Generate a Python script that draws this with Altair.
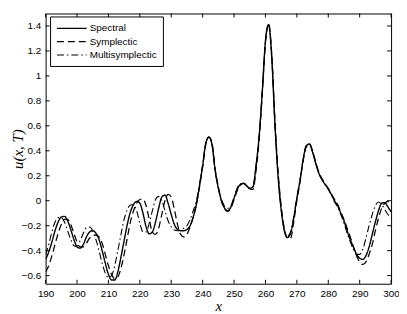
import altair as alt
import pandas as pd

x_values = list(range(190, 301))

spectral = [
    -0.47, -0.41, -0.33, -0.24, -0.17, -0.13, -0.125, -0.16, -0.23, -0.31,
    -0.37, -0.38, -0.35, -0.29, -0.25, -0.24, -0.26, -0.31, -0.40, -0.50,
    -0.59, -0.635, -0.635, -0.57, -0.45, -0.32, -0.19, -0.09, -0.03, -0.005,
    -0.02, -0.10, -0.21, -0.265, -0.25, -0.17, -0.06, 0.03, 0.045, -0.02,
    -0.11, -0.19, -0.23, -0.24, -0.24, -0.23, -0.20, -0.13, -0.03, 0.12,
    0.28, 0.46, 0.51, 0.45, 0.24, 0.10, 0.0, -0.06, -0.08, -0.05,
    0.02, 0.09, 0.13, 0.14, 0.12, 0.10, 0.11, 0.28, 0.52, 0.88,
    1.28, 1.41, 1.15, 0.62, 0.20, -0.07, -0.24, -0.295, -0.26, -0.14,
    0.02, 0.16, 0.33, 0.44, 0.455, 0.39, 0.30, 0.22, 0.17, 0.13,
    0.095, 0.05, 0.0, -0.04, -0.10, -0.16, -0.24, -0.31, -0.37, -0.43,
    -0.46, -0.47, -0.44, -0.37, -0.27, -0.17, -0.08, -0.02, -0.015, -0.05,
    -0.09,
]

symplectic = [
    -0.57, -0.52, -0.44, -0.35, -0.26, -0.19, -0.15, -0.15, -0.19, -0.26,
    -0.33, -0.37, -0.37, -0.34, -0.30, -0.28, -0.275, -0.29, -0.34, -0.43,
    -0.52, -0.59, -0.625, -0.61, -0.54, -0.43, -0.30, -0.17, -0.08, -0.02,
    0.01, 0.015, -0.04, -0.15, -0.25, -0.27, -0.22, -0.11, 0.0, 0.05,
    0.03, -0.07, -0.19, -0.27, -0.29, -0.27, -0.21, -0.13, -0.03, 0.11,
    0.27, 0.45, 0.51, 0.46, 0.25, 0.11, 0.0, -0.065, -0.085, -0.06,
    0.01, 0.08, 0.125, 0.14, 0.12, 0.095, 0.09, 0.24, 0.49, 0.86,
    1.27, 1.42, 1.18, 0.66, 0.24, -0.04, -0.22, -0.30, -0.30, -0.17,
    0.0, 0.15, 0.32, 0.43, 0.455, 0.40, 0.31, 0.23, 0.175, 0.135,
    0.10, 0.055, 0.01, -0.03, -0.09, -0.15, -0.22, -0.29, -0.37, -0.44,
    -0.49, -0.51, -0.49, -0.43, -0.35, -0.24, -0.14, -0.06, -0.02, -0.005,
    -0.03,
]

multisymplectic = [
    -0.43, -0.35, -0.25, -0.17, -0.135, -0.135, -0.17, -0.24, -0.31, -0.36,
    -0.365, -0.32, -0.26, -0.215, -0.21, -0.24, -0.31, -0.40, -0.50, -0.58,
    -0.615, -0.60, -0.52, -0.40, -0.27, -0.15, -0.07, -0.035, -0.03, -0.08,
    -0.18, -0.25, -0.25, -0.18, -0.08, 0.01, 0.035, 0.0, -0.08, -0.16,
    -0.21, -0.235, -0.24, -0.235, -0.22, -0.20, -0.15, -0.08, 0.0, 0.13,
    0.29, 0.46, 0.51, 0.44, 0.24, 0.10, 0.01, -0.045, -0.06, -0.04,
    0.03, 0.10, 0.135, 0.14, 0.12, 0.10, 0.11, 0.28, 0.52, 0.88,
    1.28, 1.41, 1.15, 0.62, 0.20, -0.07, -0.23, -0.285, -0.25, -0.13,
    0.03, 0.17, 0.33, 0.44, 0.455, 0.39, 0.30, 0.22, 0.17, 0.13,
    0.09, 0.045, -0.01, -0.05, -0.11, -0.18, -0.26, -0.33, -0.39, -0.43,
    -0.43, -0.39, -0.30, -0.20, -0.11, -0.04, -0.01, -0.03, -0.07, -0.11,
    -0.14,
]

series_names = ["Spectral", "Symplectic", "Multisymplectic"]
x_ticks = list(range(190, 301, 10))
y_ticks = [-0.6, -0.4, -0.2, 0, 0.2, 0.4, 0.6, 0.8, 1, 1.2, 1.4]

rows = []
for name, vals in zip(series_names, [spectral, symplectic, multisymplectic]):
    for xv, yv in zip(x_values, vals):
        rows.append({"x": xv, "u": yv, "method": name})
df = pd.DataFrame(rows)

W, H = 349, 273
xscale = alt.Scale(domain=[190, 300], nice=False, zero=False)
yscale = alt.Scale(domain=[-0.665, 1.5], nice=False, zero=False)
x_axis = alt.Axis(values=x_ticks, format="d", title="x", titlePadding=0, labelFlush=False)
y_axis = alt.Axis(values=y_ticks, format="~g", title="u(x, T)", titlePadding=-4, labelFlush=False)

lines = alt.Chart(df).mark_line(clip=True, interpolate="monotone", color="black").encode(
    x=alt.X("x:Q", scale=xscale, axis=x_axis),
    y=alt.Y("u:Q", scale=yscale, axis=y_axis),
    strokeDash=alt.StrokeDash(
        "method:N",
        scale=alt.Scale(domain=series_names, range=[[1, 0], [7, 4], [7, 3, 1.5, 3]]),
        legend=alt.Legend(
            title=None, orient="none", legendX=4.5, legendY=3,
            strokeColor="black", fillColor="white", padding=6, cornerRadius=0,
            symbolType="M-1,0H5", symbolSize=100, symbolStrokeWidth=1.1,
            symbolStrokeColor="black", symbolFillColor="transparent",
            labelFont="Liberation Sans",
            labelFontSize=10, labelColor="black", labelOffset=22, rowPadding=2.5,
        ),
    ),
    strokeWidth=alt.StrokeWidth(
        "method:N", scale=alt.Scale(domain=series_names, range=[1.4, 1.1, 1.1]), legend=None
    ),
)

xt_df = pd.DataFrame({"x": x_ticks})
yt_df = pd.DataFrame({"u": y_ticks})

tick_bottom = alt.Chart(xt_df).mark_rule(color="black", strokeWidth=1).encode(
    x=alt.X("x:Q", scale=xscale, axis=x_axis), y=alt.value(H), y2=alt.value(H - 4))
tick_top = alt.Chart(xt_df).mark_rule(color="black", strokeWidth=1).encode(
    x=alt.X("x:Q", scale=xscale, axis=x_axis), y=alt.value(0), y2=alt.value(4))
tick_left = alt.Chart(yt_df).mark_rule(color="black", strokeWidth=1).encode(
    y=alt.Y("u:Q", scale=yscale, axis=y_axis), x=alt.value(0), x2=alt.value(4))
tick_right = alt.Chart(yt_df).mark_rule(color="black", strokeWidth=1).encode(
    y=alt.Y("u:Q", scale=yscale, axis=y_axis), x=alt.value(W), x2=alt.value(W - 4))

chart = alt.layer(lines, tick_bottom, tick_top, tick_left, tick_right).properties(
    width=W, height=H,
    padding={"left": 38, "top": 4, "right": 8, "bottom": 28},
    autosize=alt.AutoSizeParams(type="none"),
    background="white",
).configure_view(
    stroke="black", strokeWidth=1
).configure_axis(
    grid=False, domain=False, ticks=False,
    labelFont="Liberation Sans", labelFontSize=10, labelColor="black", labelPadding=5,
    titleFont="Liberation Serif", titleFontStyle="italic", titleFontWeight="normal",
    titleFontSize=15, titleColor="black",
)

chart.save("out.html", embed_options={"renderer": "svg", "actions": False})
